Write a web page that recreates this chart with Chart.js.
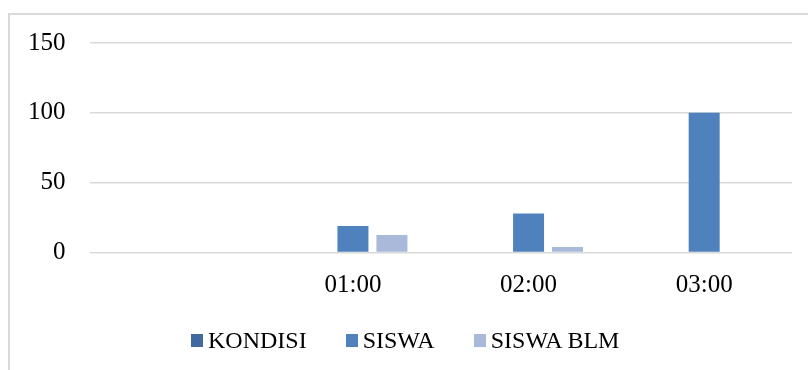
<!DOCTYPE html>
<html>
<head>
<meta charset="utf-8">
<script src="https://cdn.jsdelivr.net/npm/chart.js@4.4.1/dist/chart.umd.min.js"></script>
<style>
    html, body { margin: 0; padding: 0; background: #fff; overflow: hidden; }
    #wrap { position: relative; width: 808px; height: 370px; }
    #frame { position: absolute; left: 8px; top: 13px; width: 900px; height: 500px; border: 2px solid #d9d9d9; box-sizing: border-box; }
    #chart { position: absolute; left: 0; top: 0; }
    #legend { position: absolute; top: 327px; left: 191px; display: flex; font-family: 'Liberation Serif', serif; font-size: 24px; color: #000; }
    #legend .item { display: flex; align-items: center; margin-right: 39px; }
    #legend .box { width: 12px; height: 13px; margin-right: 5px; }
</style>
</head>
<body>
<div id="wrap">
    <div id="frame"></div>
    <canvas id="chart" width="808" height="370"></canvas>
    <div id="legend"></div>
</div>
<script>
// ========== DONNÉES ==========
const categories = ['', '01:00', '02:00', '03:00'];
const seriesNames = ['KONDISI', 'SISWA', 'SISWA BLM'];
const kondisi = [0, 0, 0, 0];
const siswa = [0, 19, 28, 100];
const siswaBlm = [0, 12.5, 4, 0];
const yTicks = [0, 50, 100, 150];
const colors = ['#41699d', '#4f81bd', '#a9b9da'];

(function() {
    'use strict';

    const values = [kondisi, siswa, siswaBlm];
    const font = { family: "'Liberation Serif', serif", size: 25 };

    new Chart(document.getElementById('chart'), {
        type: 'bar',
        data: {
            labels: categories,
            datasets: seriesNames.map((name, i) => ({
                label: name,
                data: values[i],
                backgroundColor: colors[i],
                borderWidth: 0,
                barPercentage: 0.795,
                categoryPercentage: 0.666
            }))
        },
        options: {
            responsive: false,
            animation: false,
            layout: { padding: { left: 4, right: 16, top: 43, bottom: 59.5 } },
            plugins: { legend: { display: false }, tooltip: { enabled: false } },
            scales: {
                x: {
                    grid: { display: false },
                    border: { display: false },
                    ticks: { color: '#000', font, padding: 10, maxRotation: 0 }
                },
                y: {
                    min: 0,
                    max: 150,
                    afterBuildTicks: (axis) => { axis.ticks = yTicks.map(v => ({ value: v })); },
                    grid: { color: '#d9d9d9', lineWidth: 1.5, drawTicks: false },
                    border: { display: false },
                    ticks: { color: '#000', font, padding: 24 }
                }
            }
        }
    });

    // légende HTML
    const legend = document.getElementById('legend');
    seriesNames.forEach((name, i) => {
        const item = document.createElement('div');
        item.className = 'item';
        const box = document.createElement('span');
        box.className = 'box';
        box.style.background = colors[i];
        const txt = document.createElement('span');
        txt.textContent = name;
        item.appendChild(box);
        item.appendChild(txt);
        legend.appendChild(item);
    });
})();
</script>
</body>
</html>
